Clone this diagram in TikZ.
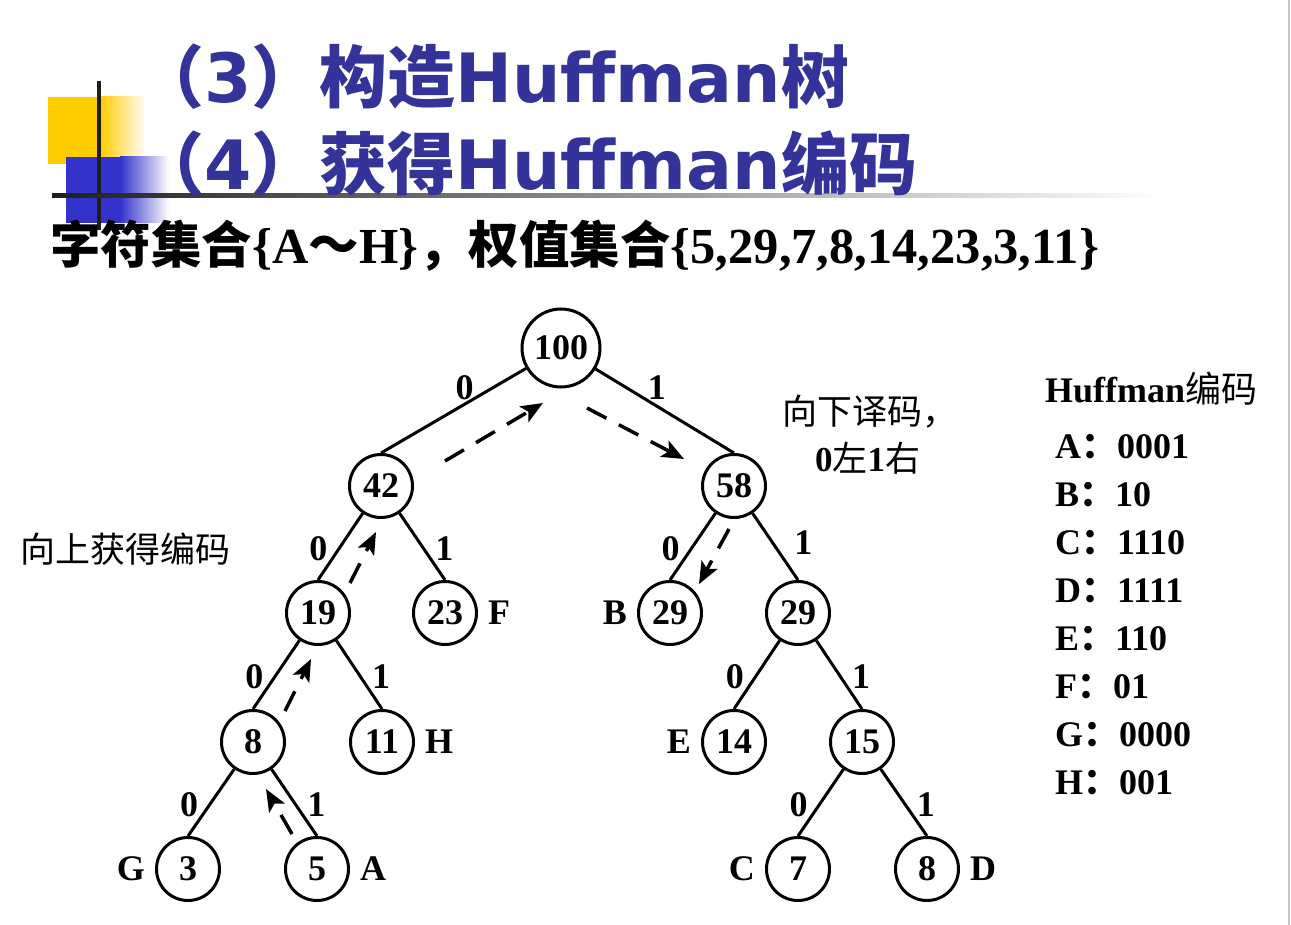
\documentclass[tikz,border=0pt]{standalone}
\usepackage{fontspec}
\setmainfont{Liberation Serif}
\newfontfamily\cjk{Noto Sans CJK SC}
\newfontfamily\heiti{DejaVu Sans}
\usetikzlibrary{arrows.meta}

\definecolor{titleblue}{RGB}{51,51,153}
\definecolor{decoyellow}{RGB}{255,204,0}
\definecolor{decoblue}{RGB}{51,51,204}

\newcommand{\treefont}{\bfseries\fontsize{36}{36}\selectfont}
\newcommand{\notefont}{\fontsize{35}{35}\selectfont}

\begin{document}
\begin{tikzpicture}[x=1pt, y=-1pt,
    title/.style={text=titleblue, inner sep=0pt, anchor=base west,
        font=\bfseries\fontsize{68}{68}\selectfont},
    tree/.style={circle, draw, line width=3pt, minimum size=63pt,
        inner sep=0pt, font=\treefont},
    tag/.style={font=\treefont, inner sep=0pt},
    tagl/.style={tag, xshift=-10pt},
    tagr/.style={tag, xshift=10pt},
    bit/.style={font=\treefont, midway, inner sep=0pt},
    bitl/.style={bit, xshift=-22pt, yshift=-2pt},
    bitr/.style={bit, xshift=22pt, yshift=-2pt},
    edge/.style={line width=3pt},
    walk/.style={line width=3.5pt, dash pattern=on 22pt off 14pt,
        -{Stealth[length=22pt, width=18pt, inset=5pt]}},
    note/.style={font=\notefont\cjk, inner sep=0pt, anchor=west},
    code/.style={font=\treefont, inner sep=0pt, anchor=west}
]
    \useasboundingbox (0,0) rectangle (1291,925);
    \draw[black!22, line width=2pt] (1289,0) -- (1289,925);

    % corner decoration
    \fill[decoyellow] (48,97) rectangle (101,164);
    \shade[left color=decoyellow, right color=white] (100,97) rectangle (146,164);
    \fill[decoblue] (66,157) rectangle (121,223);
    \shade[left color=decoblue, right color=white] (120,157) rectangle (169,223);
    \fill[black!88] (97,81) rectangle (101,230);
    \shade[left color=black!88, right color=white] (52,194) rectangle (1165,198);

    % title
    \node[title] (title3) at (136,103) {\cjk（\heiti 3\cjk）构造\heiti Huffman\cjk 树};
    \node[title] (title4) at (136,190) {\cjk（\heiti 4\cjk）获得\heiti Huffman\cjk 编码};
    \node[inner sep=0pt, anchor=base west, font=\bfseries\fontsize{50.5}{50.5}\selectfont] (given) at (50,264)
        {{\cjk 字符集合}\{A{\cjk ～}H\}{\cjk ，权值集合}\{5,29,7,8,14,23,3,11\}};

    % tree
    \node[tree, minimum size=78pt] (n100) at (561,348) {100};
    \node[tree] (n42) at (381,486) {42};
    \node[tree] (n58) at (734,486) {58};
    \node[tree] (n19) at (318,613) {19};
    \node[tree, label={[tagr]right:F}] (n23) at (445,613) {23};
    \node[tree, label={[tagl]left:B}] (n29b) at (670,613) {29};
    \node[tree] (n29) at (798,613) {29};
    \node[tree] (n8) at (253,742) {8};
    \node[tree, label={[tagr]right:H}] (n11) at (382,742) {11};
    \node[tree, label={[tagl]left:E}] (n14) at (734,742) {14};
    \node[tree] (n15) at (862,742) {15};
    \node[tree, label={[tagl]left:G}] (n3) at (188,869) {3};
    \node[tree, label={[tagr]right:A}] (n5) at (317,869) {5};
    \node[tree, label={[tagl]left:C}] (n7) at (798,869) {7};
    \node[tree, label={[tagr]right:D}] (n8d) at (927,869) {8};

    \draw[edge] (n100) -- node[bit, xshift=11pt, yshift=23pt] {0} (n42.north);
    \draw[edge] (n100) -- node[bit, xshift=-8pt, yshift=23pt] {1} (n58.north);
    \draw[edge] (n42) -- node[bitl] {0} (n19.north);
    \draw[edge] (n42) -- node[bitr] {1} (n23.north);
    \draw[edge] (n58) -- node[bitl] {0} (n29b.north);
    \draw[edge] (n58) -- node[bitr, xshift=6pt, yshift=6pt] {1} (n29.north);
    \draw[edge] (n19) -- node[bitl] {0} (n8.north);
    \draw[edge] (n19) -- node[bitr] {1} (n11.north);
    \draw[edge] (n29) -- node[bitl] {0} (n14.north);
    \draw[edge] (n29) -- node[bitr] {1} (n15.north);
    \draw[edge] (n8) -- node[bitl] {0} (n3.north);
    \draw[edge] (n8) -- node[bitr] {1} (n5.north);
    \draw[edge] (n15) -- node[bitl] {0} (n7.north);
    \draw[edge] (n15) -- node[bitr] {1} (n8d.north);

    % reading the code upwards and downwards
    \coordinate (up1a) at (292,834);  \coordinate (up1b) at (266,789);
    \coordinate (up2a) at (285,711);  \coordinate (up2b) at (311,659);
    \coordinate (up3a) at (350,583);  \coordinate (up3b) at (376,532);
    \coordinate (up4a) at (445,461);  \coordinate (up4b) at (543,403);
    \coordinate (dn1a) at (587,408);  \coordinate (dn1b) at (684,459);
    \coordinate (dn2a) at (729,529);  \coordinate (dn2b) at (699,584);
    \draw[walk] (up1a) -- (up1b);
    \draw[walk] (up2a) -- (up2b);
    \draw[walk] (up3a) -- (up3b);
    \draw[walk] (up4a) -- (up4b);
    \draw[walk] (dn1a) -- (dn1b);
    \draw[walk] (dn2a) -- (dn2b);

    \node[note] (upnote) at (20,549) {向上获得编码};
    \node[note] (dnnote) at (782,412) {向下译码，};
    \node[note] (dnrule) at (815,458) {\rmfamily\bfseries 0\cjk\mdseries 左\rmfamily\bfseries 1\cjk\mdseries 右};

    % code table
    \node[code] (codehead) at (1045,389) {Huffman{\cjk\mdseries 编码}};
    \foreach \ch/\bits [count=\i from 0] in {A/0001,B/10,C/1110,D/1111,E/110,F/01,G/0000,H/001}
        \node[code] (code\ch) at (1055,447+47.9*\i) {\ch{\cjk：}\bits};
\end{tikzpicture}
\end{document}
